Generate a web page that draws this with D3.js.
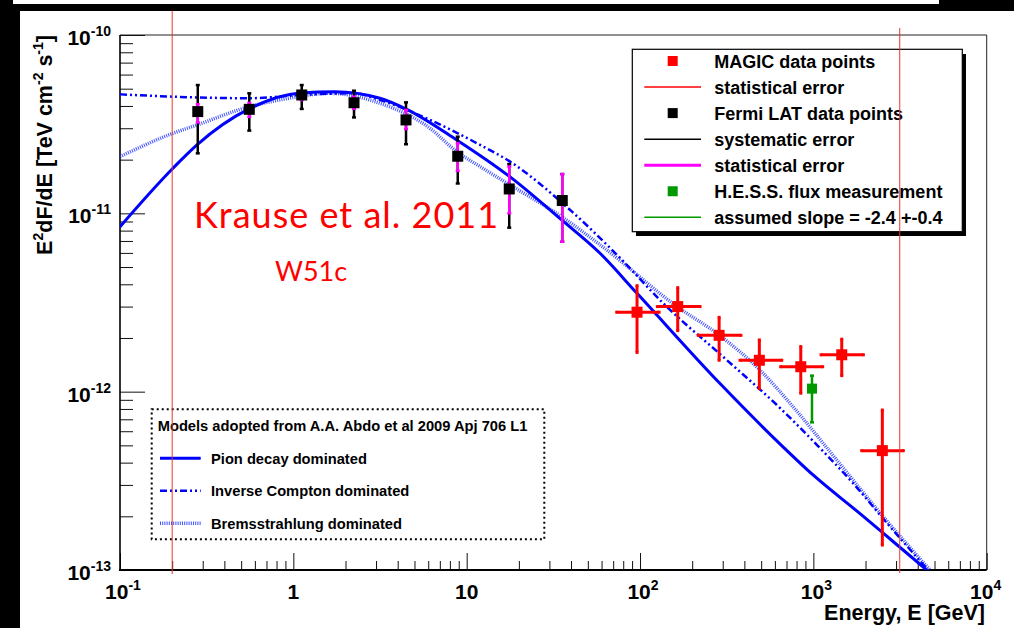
<!DOCTYPE html>
<html><head><meta charset="utf-8">
<script src="https://cdn.jsdelivr.net/npm/d3@7"></script>
<style>html,body{margin:0;padding:0;background:#000;} svg{display:block;}</style>
</head><body><svg id="c" width="1014" height="628"></svg>
<script>
// ---- Fermi LAT points (GeV, TeV cm^-2 s^-1) ----
const fermiE      = [0.281, 0.557, 1.118, 2.239, 4.467, 8.88, 17.6, 35.6];
const fermiF      = [3.72e-11, 3.83e-11, 4.61e-11, 4.17e-11, 3.34e-11, 2.09e-11, 1.37e-11, 1.18e-11];
const fermiSysLo  = [2.17e-11, 2.91e-11, 3.85e-11, 3.45e-11, 2.44e-11, 1.47e-11, 8.31e-12, 6.93e-12];
const fermiSysHi  = [5.24e-11, 4.71e-11, 5.24e-11, 4.87e-11, 4.19e-11, 2.69e-11, 1.89e-11, 1.66e-11];
const fermiStatLo = [3.24e-11, 3.48e-11, 4.32e-11, 3.85e-11, 2.97e-11, 1.73e-11, 1.00e-11, 6.93e-12];
const fermiStatHi = [4.09e-11, 4.16e-11, 4.81e-11, 4.51e-11, 3.80e-11, 2.47e-11, 1.83e-11, 1.66e-11];

// ---- MAGIC points ----
const magicE   = [96.1, 165, 286, 488, 846, 1458, 2500];
const magicELo = [73.4, 125.9, 217, 377.6, 648, 1108, 1901];
const magicEHi = [128.8, 222, 382, 657, 1132, 1943, 3304];
const magicF   = [2.79e-12, 3.0e-12, 2.07e-12, 1.50e-12, 1.38e-12, 1.61e-12, 4.67e-13];
const magicFLo = [1.66e-12, 2.20e-12, 1.50e-12, 1.04e-12, 9.8e-13, 1.23e-12, 1.38e-13];
const magicFHi = [3.93e-12, 3.83e-12, 2.61e-12, 1.95e-12, 1.79e-12, 1.97e-12, 7.89e-13];

// ---- H.E.S.S. flux ----
const hessE = [982];
const hessF = [1.04e-12];
const hessFLo = [6.73e-13];
const hessFHi = [1.23e-12];

// ---- Model curves (Abdo et al. 2009) ----
const pionE = [0.1, 0.202, 0.278, 0.555, 1.093, 1.74, 3.16, 4.51, 8.76, 17.8, 35.3, 58.8, 96.1, 289.4, 628, 1000, 1859, 2894, 4508];
const pionF = [8.41e-12, 1.79e-11, 2.42e-11, 3.85e-11, 4.73e-11, 4.81e-11, 4.42e-11, 3.83e-11, 2.58e-11, 1.60e-11, 9.18e-12, 5.97e-12, 3.56e-12, 1.11e-12, 5.2e-13, 3.4e-13, 2.07e-13, 1.44e-13, 1.0e-13];
const icE = [0.1, 0.202, 0.562, 1.093, 2.24, 3.16, 6.14, 11.94, 17.8, 37.8, 76.7, 135.7, 317.7, 642, 1050, 1694, 2661, 4588];
const icF = [4.65e-11, 4.51e-11, 4.42e-11, 4.61e-11, 4.71e-11, 4.32e-11, 3.34e-11, 2.42e-11, 1.95e-11, 1.085e-11, 5.62e-12, 3.14e-12, 1.50e-12, 8.10e-13, 5.02e-13, 3.07e-13, 1.83e-13, 1.0e-13];
const bremsE = [0.1, 0.202, 0.278, 0.555, 0.872, 1.627, 3.16, 6.14, 8.76, 11.94, 18.5, 35.3, 64.3, 163.5, 285.6, 492.4, 763.4, 1364, 2424, 4711];
const bremsF = [2.08e-11, 2.81e-11, 3.13e-11, 3.96e-11, 4.36e-11, 4.71e-11, 4.14e-11, 3.0e-11, 2.22e-11, 1.83e-11, 1.41e-11, 9.58e-12, 6.23e-12, 3.0e-12, 2.08e-12, 1.32e-12, 8.23e-13, 4.14e-13, 2.09e-13, 1.0e-13];

// ---- energy range markers ----
const rangeE = [0.2, 3150];

// ---- axis tick exponents ----
const xTickExp = [-1, 0, 1, 2, 3, 4];
const yTickExp = [-13, -12, -11, -10];
const minorMult = [2, 3, 4, 5, 6, 7, 8, 9];

// ---- legend texts ----
const legendMain = [
  {kind: "box",  color: "#ff0000", label: "MAGIC data points"},
  {kind: "line", color: "#ff0000", w: 1.5, label: "statistical error"},
  {kind: "box",  color: "#000000", label: "Fermi LAT data points"},
  {kind: "line", color: "#000000", w: 1.5, label: "systematic error"},
  {kind: "line", color: "#ff00ff", w: 3,   label: "statistical error"},
  {kind: "box",  color: "#009a00", label: "H.E.S.S. flux measurement"},
  {kind: "line", color: "#009a00", w: 1.5, label: "assumed slope = -2.4 +-0.4"}
];
const modelTitle = "Models adopted from A.A. Abdo et al 2009 Apj 706 L1";
const modelLabels = ["Pion decay dominated", "Inverse Compton dominated", "Bremsstrahlung dominated"];

const FONT = "'Liberation Sans', Arial, Helvetica, sans-serif";
const svg = d3.select("#c");

// page background
svg.append("rect").attr("width", 1014).attr("height", 628).attr("fill", "#000");
svg.append("rect").attr("x", 20).attr("y", 11).attr("width", 994).attr("height", 617).attr("fill", "#fff");
svg.append("rect").attr("x", 13).attr("y", 0).attr("width", 926).attr("height", 4).attr("fill", "#fff");

const L = 120, R = 986.7, T = 35, B = 570;
const x = d3.scaleLog().domain([0.1, 1e4]).range([L, R]);
const y = d3.scaleLog().domain([1e-13, 1e-10]).range([B, T]);

// frame
svg.append("path").attr("d", `M${L},${T}H${R}V${B}`).attr("fill", "none").attr("stroke", "#222").attr("stroke-width", 1);

// ticks
const xMajor = xTickExp.map(e => Math.pow(10, e));
const xMinor = [];
xMajor.slice(0, -1).forEach(d => minorMult.forEach(m => xMinor.push(m * d)));
const yMajor = yTickExp.map(e => Math.pow(10, e));
const yMinor = [];
yMajor.slice(0, -1).forEach(d => minorMult.forEach(m => yMinor.push(m * d)));

function axisG(ax) {
  const g = svg.append("g");
  g.call(ax);
  g.selectAll("text").remove();
  g.select(".domain").remove();
  g.selectAll("line").attr("stroke", "#111").attr("stroke-width", 1);
  return g;
}
axisG(d3.axisBottom(x).tickValues(xMajor).tickSize(-17).tickSizeOuter(0)).attr("transform", `translate(0,${B})`);
axisG(d3.axisBottom(x).tickValues(xMinor).tickSize(-9).tickSizeOuter(0)).attr("transform", `translate(0,${B})`);
axisG(d3.axisLeft(y).tickValues(yMajor).tickSize(-25).tickSizeOuter(0)).attr("transform", `translate(${L},0)`);
axisG(d3.axisLeft(y).tickValues(yMinor).tickSize(-13).tickSizeOuter(0)).attr("transform", `translate(${L},0)`);

// axis lines
svg.append("line").attr("x1", L).attr("x2", L).attr("y1", T).attr("y2", B + 1).attr("stroke", "#000").attr("stroke-width", 1.6);
svg.append("line").attr("x1", L - 1).attr("x2", R).attr("y1", B).attr("y2", B).attr("stroke", "#000").attr("stroke-width", 2.2);

// power-of-ten labels
function powLabel(exp, px, py, anchor) {
  const t = svg.append("text").attr("x", px).attr("y", py).attr("text-anchor", anchor)
    .attr("font-family", FONT).attr("font-weight", "bold").attr("font-size", 21).attr("fill", "#000");
  if (exp === 0) { t.text("1"); return; }
  t.append("tspan").text("10");
  if (exp !== 1) t.append("tspan").attr("font-size", 14).attr("dy", -9).text(String(exp));
}
xTickExp.forEach(e => powLabel(e, x(Math.pow(10, e)) + (e === 0 || e === 1 ? 0 : 3) - (e === 4 ? 4 : 0), 599, "middle"));
yTickExp.forEach(e => powLabel(e, 111, y(Math.pow(10, e)) + 10, "end"));

// axis titles
svg.append("text").attr("x", 985).attr("y", 620).attr("text-anchor", "end")
  .attr("font-family", FONT).attr("font-weight", "bold").attr("font-size", 21.5).text("Energy, E [GeV]");
const yt = svg.append("text").attr("transform", "translate(52,35) rotate(-90)").attr("text-anchor", "end")
  .attr("font-family", FONT).attr("font-weight", "bold").attr("font-size", 21.5);
yt.append("tspan").text("E");
yt.append("tspan").attr("font-size", 14).attr("dy", -9).text("2");
yt.append("tspan").attr("dy", 9).text("dF/dE [TeV cm");
yt.append("tspan").attr("font-size", 14).attr("dy", -9).text("-2");
yt.append("tspan").attr("dy", 9).text(" s");
yt.append("tspan").attr("font-size", 14).attr("dy", -9).text("-1");
yt.append("tspan").attr("dy", 9).text("]");

// model curves
svg.append("clipPath").attr("id", "plotclip").append("rect").attr("x", L).attr("y", T).attr("width", R - L).attr("height", B - T);
const line = d3.line().x(d => x(d[0])).y(d => y(d[1])).curve(d3.curveMonotoneX);
const curves = svg.append("g").attr("clip-path", "url(#plotclip)");
curves.append("path").attr("d", line(bremsE.map((e, i) => [e, bremsF[i]])))
  .attr("fill", "none").attr("stroke", "#1f33ff").attr("stroke-width", 3.5).attr("stroke-dasharray", "1,1.2").attr("opacity", 0.85);
curves.append("path").attr("d", line(icE.map((e, i) => [e, icF[i]])))
  .attr("fill", "none").attr("stroke", "#0000ff").attr("stroke-width", 2.5).attr("stroke-dasharray", "7,3,2,3,2,3");
curves.append("path").attr("d", line(pionE.map((e, i) => [e, pionF[i]])))
  .attr("fill", "none").attr("stroke", "#0000ff").attr("stroke-width", 3);

// error bar helpers
function vbar(g, xv, lo, hi, color, w, cap) {
  g.append("line").attr("x1", x(xv)).attr("x2", x(xv)).attr("y1", y(lo)).attr("y2", y(hi)).attr("stroke", color).attr("stroke-width", w);
  if (cap) [lo, hi].forEach(v => g.append("line").attr("x1", x(xv) - cap).attr("x2", x(xv) + cap)
    .attr("y1", y(v)).attr("y2", y(v)).attr("stroke", color).attr("stroke-width", w));
}
function hbar(g, yv, lo, hi, color, w, cap) {
  g.append("line").attr("x1", x(lo)).attr("x2", x(hi)).attr("y1", y(yv)).attr("y2", y(yv)).attr("stroke", color).attr("stroke-width", w);
  if (cap) [lo, hi].forEach(v => g.append("line").attr("x1", x(v)).attr("x2", x(v))
    .attr("y1", y(yv) - cap).attr("y2", y(yv) + cap).attr("stroke", color).attr("stroke-width", w));
}
function square(g, xv, yv, s, color) {
  g.append("rect").attr("x", x(xv) - s / 2).attr("y", y(yv) - s / 2).attr("width", s).attr("height", s).attr("fill", color);
}

// Fermi LAT
const gF = svg.append("g");
fermiE.forEach((e, i) => vbar(gF, e, fermiSysLo[i], fermiSysHi[i], "#000", 2.5, 2));
fermiE.forEach((e, i) => vbar(gF, e, fermiStatLo[i], fermiStatHi[i], "#ff00ff", 2.5, 2));
fermiE.forEach((e, i) => square(gF, e, fermiF[i], 11, "#000"));

// MAGIC
const gM = svg.append("g");
magicE.forEach((e, i) => {
  hbar(gM, magicF[i], magicELo[i], magicEHi[i], "#ff0000", 3, 1.5);
  vbar(gM, e, magicFLo[i], magicFHi[i], "#ff0000", 3, 1.5);
  square(gM, e, magicF[i], 11, "#ff0000");
});

// H.E.S.S.
const gH = svg.append("g");
hessE.forEach((e, i) => {
  vbar(gH, e, hessFLo[i], hessFHi[i], "#009a00", 2.5, 2);
  square(gH, e, hessF[i], 10, "#009a00");
});

// main legend with shadow
svg.append("rect").attr("x", 636).attr("y", 54).attr("width", 330).attr("height", 182).attr("fill", "#000");
svg.append("rect").attr("x", 632.3).attr("y", 49.3).attr("width", 330).attr("height", 182.4)
  .attr("fill", "#fff").attr("stroke", "#000").attr("stroke-width", 1.2);
legendMain.forEach((d, i) => {
  const cy = 61 + i * 26.05;
  if (d.kind === "box") svg.append("rect").attr("x", 667.7).attr("y", cy - 5).attr("width", 10).attr("height", 10).attr("fill", d.color);
  else svg.append("line").attr("x1", 644.3).attr("x2", 701).attr("y1", cy).attr("y2", cy).attr("stroke", d.color).attr("stroke-width", d.w);
  svg.append("text").attr("x", 714.3).attr("y", cy + 6.5).attr("font-family", FONT).attr("font-weight", "bold")
    .attr("font-size", 18).text(d.label);
});

// models legend
svg.append("rect").attr("x", 151.7).attr("y", 409.3).attr("width", 392.6).attr("height", 130)
  .attr("fill", "#fff").attr("stroke", "#000").attr("stroke-width", 2).attr("stroke-dasharray", "2,3");
svg.append("text").attr("x", 157.7).attr("y", 430.5).attr("font-family", FONT).attr("font-weight", "bold")
  .attr("font-size", 14.7).text(modelTitle);
const modelStyles = [
  {w: 3, dash: null, color: "#0000ff", op: 1},
  {w: 2.5, dash: "7,3,2,3,2,3", color: "#0000ff", op: 1},
  {w: 3.5, dash: "1,1.2", color: "#1f33ff", op: 0.85}
];
modelLabels.forEach((lab, i) => {
  const cy = 458.3 + i * 32.5;
  const s = modelStyles[i];
  const ln = svg.append("line").attr("x1", 160).attr("x2", 200.7).attr("y1", cy).attr("y2", cy)
    .attr("stroke", s.color).attr("stroke-width", s.w).attr("opacity", s.op);
  if (s.dash) ln.attr("stroke-dasharray", s.dash);
  svg.append("text").attr("x", 211).attr("y", cy + 5.5).attr("font-family", FONT).attr("font-weight", "bold")
    .attr("font-size", 14.7).text(lab);
});

// energy range markers
svg.append("line").attr("x1", x(rangeE[0])).attr("x2", x(rangeE[0])).attr("y1", 11).attr("y2", 574)
  .attr("stroke", "#e8382a").attr("stroke-width", 1);
svg.append("line").attr("x1", x(rangeE[1])).attr("x2", x(rangeE[1])).attr("y1", 28).attr("y2", 573)
  .attr("stroke", "#e8382a").attr("stroke-width", 1);

// annotation
svg.append("text").attr("x", 194).attr("y", 228).attr("font-family", "Lato, 'Open Sans', sans-serif")
  .attr("font-size", 36).attr("letter-spacing", 1).attr("fill", "#ff0000").text("Krause et al. 2011");
svg.append("text").attr("x", 275).attr("y", 281).attr("font-family", "Lato, 'Open Sans', sans-serif")
  .attr("font-size", 27).attr("fill", "#ff0000").text("W51c");
</script></body></html>
